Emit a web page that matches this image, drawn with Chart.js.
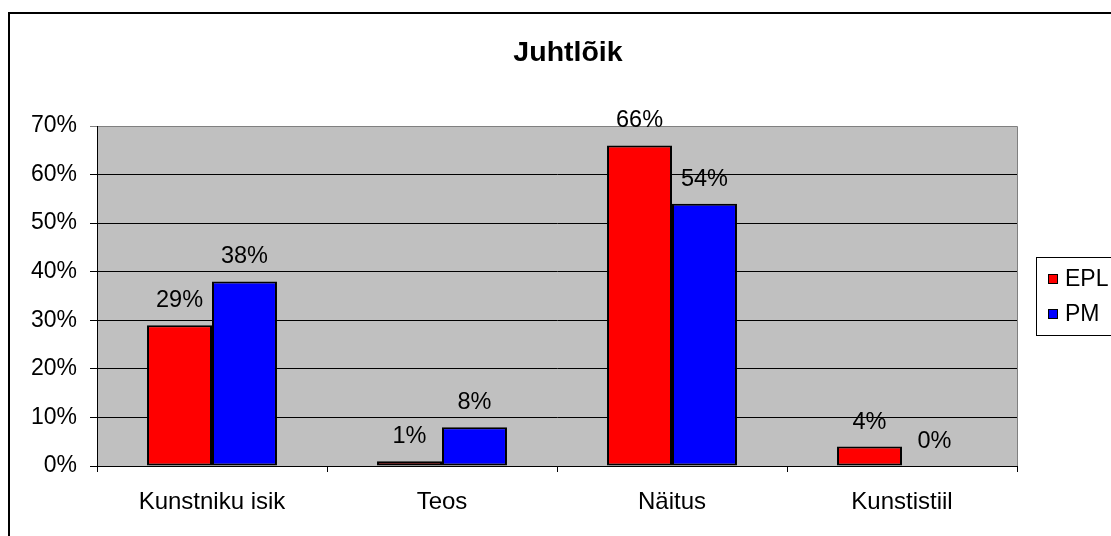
<!DOCTYPE html>
<html>
<head>
<meta charset="utf-8">
<script src="https://cdn.jsdelivr.net/npm/chart.js@4.4.1/dist/chart.umd.min.js"></script>
<style>
  html, body { margin: 0; padding: 0; background: #fff; }
  #wrap { width: 1111px; height: 536px; }
</style>
</head>
<body>
<div id="wrap"><canvas id="c" width="1111" height="536"></canvas></div>
<script>
const chartTitle = 'Juhtlõik';
const categories = ['Kunstniku isik', 'Teos', 'Näitus', 'Kunstistiil'];
const seriesNames = ['EPL', 'PM'];
const eplValues = [29, 1, 66, 4];
const pmValues = [38, 8, 54, 0];
const seriesColors = ['#FF0000', '#0000FF'];
const yTicks = [0, 10, 20, 30, 40, 50, 60, 70];

const FONT = "'Liberation Sans', Arial, sans-serif";

const decorPlugin = {
  id: 'decor',
  beforeDraw(chart) {
    const ctx = chart.ctx;
    const a = chart.chartArea;
    ctx.save();
    ctx.fillStyle = '#fff';
    ctx.fillRect(0, 0, chart.width, chart.height);
    // outer frame
    ctx.strokeStyle = '#000';
    ctx.lineWidth = 2;
    ctx.strokeRect(9, 13, chart.width + 20, chart.height + 20);
    // plot background
    ctx.fillStyle = '#C0C0C0';
    ctx.fillRect(a.left, a.top, a.right - a.left, a.bottom - a.top);
    ctx.strokeStyle = '#808080';
    ctx.lineWidth = 1;
    ctx.beginPath();
    ctx.moveTo(a.left, a.top + 0.5);
    ctx.lineTo(a.right + 0.5, a.top + 0.5);
    ctx.lineTo(a.right + 0.5, a.bottom);
    ctx.stroke();
    // title
    ctx.fillStyle = '#000';
    ctx.font = 'bold 28.5px ' + FONT;
    ctx.textAlign = 'center';
    ctx.textBaseline = 'alphabetic';
    ctx.fillText(chartTitle, 568, 61);
    ctx.restore();
  },
  afterDatasetsDraw(chart) {
    const ctx = chart.ctx;
    ctx.save();
    ctx.fillStyle = '#000';
    ctx.font = '23.5px ' + FONT;
    ctx.textAlign = 'center';
    ctx.textBaseline = 'alphabetic';
    chart.data.datasets.forEach((ds, di) => {
      const meta = chart.getDatasetMeta(di);
      meta.data.forEach((el, i) => {
        ctx.fillText(ds.data[i] + '%', el.x, el.y - 18);
      });
    });
    // legend
    ctx.fillStyle = '#fff';
    ctx.fillRect(1036, 257, 120, 78);
    ctx.strokeStyle = '#000';
    ctx.lineWidth = 1;
    ctx.strokeRect(1036.5, 257.5, 120, 78);
    const rows = [279, 314];
    chart.data.datasets.forEach((ds, di) => {
      const cy = rows[di];
      ctx.fillStyle = ds.backgroundColor;
      ctx.fillRect(1048.5, cy - 4.5, 9, 9);
      ctx.strokeStyle = '#000';
      ctx.strokeRect(1048.5, cy - 4.5, 9, 9);
      ctx.fillStyle = '#000';
      ctx.font = '23px ' + FONT;
      ctx.textAlign = 'left';
      ctx.textBaseline = 'middle';
      ctx.fillText(ds.label, 1065, cy + 1);
    });
    ctx.restore();
  }
};

new Chart(document.getElementById('c'), {
  type: 'bar',
  data: {
    labels: categories,
    datasets: [
      { label: seriesNames[0], data: eplValues, backgroundColor: seriesColors[0], borderColor: '#000', borderWidth: 2, borderSkipped: false },
      { label: seriesNames[1], data: pmValues, backgroundColor: seriesColors[1], borderColor: '#000', borderWidth: 2, borderSkipped: false }
    ]
  },
  options: {
    responsive: false,
    animation: false,
    devicePixelRatio: 1,
    layout: { padding: { left: 0, top: 126, right: 94, bottom: 0 } },
    datasets: { bar: { categoryPercentage: 0.565, barPercentage: 1 } },
    plugins: { legend: { display: false }, tooltip: { enabled: false }, title: { display: false } },
    scales: {
      x: {
        offset: true,
        grid: { offset: true, drawOnChartArea: false, drawTicks: true, tickLength: 6, color: '#000' },
        border: { display: true, color: '#000', width: 1 },
        ticks: { color: '#000', font: { family: FONT, size: 24 }, padding: 16, maxRotation: 0 },
        afterFit(s) { s.height = 70; }
      },
      y: {
        min: 0, max: 70,
        afterBuildTicks(s) { s.ticks = yTicks.map(v => ({ value: v })); },
        grid: { color: (c) => c.tick && c.tick.value === 70 ? '#808080' : '#000', tickLength: 7, drawTicks: true },
        border: { display: true, color: '#000', width: 1 },
        ticks: { color: '#000', font: { family: FONT, size: 23 }, padding: 13, callback: v => v + '%' },
        afterFit(s) { s.width = 97; }
      }
    }
  },
  plugins: [decorPlugin]
});
</script>
</body>
</html>
